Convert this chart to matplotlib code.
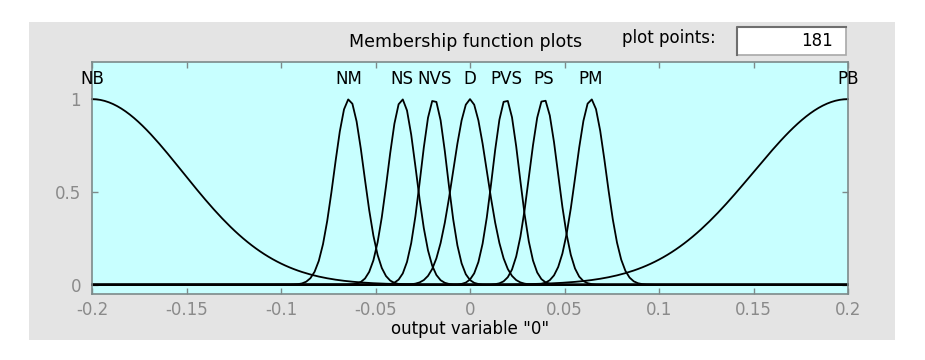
import numpy as np
import matplotlib as mpl
import matplotlib.pyplot as plt
from matplotlib.patches import Rectangle

plt.switch_backend('Agg')

# membership functions of output variable "0" (gaussmf: centre, sigma)
mf_names = ['NB', 'NM', 'NS', 'NVS', 'D', 'PVS', 'PS', 'PM', 'PB']
mf_centers = [-0.2, -0.064, -0.036, -0.019, 0.0, 0.019, 0.039, 0.064, 0.2]
mf_sigmas = [0.048, 0.0079, 0.0075, 0.0070, 0.0090, 0.0071, 0.0075, 0.0080, 0.050]

x_range = [-0.2, 0.2]
plot_points = 181
x_ticks = [-0.2, -0.15, -0.1, -0.05, 0, 0.05, 0.1, 0.15, 0.2]
x_tick_labels = ['-0.2', '-0.15', '-0.1', '-0.05', '0', '0.05', '0.1', '0.15', '0.2']
y_ticks = [0, 0.5, 1]
y_tick_labels = ['0', '0.5', '1']

W, H = 925, 360
panel_grey = '#e4e4e4'
axes_cyan = '#c8ffff'
edge_grey = '#7d8a8a'
label_grey = '#8a8a8a'

mpl.rcParams['font.family'] = ['DejaVu Sans']

fig = plt.figure(figsize=(W / 100, H / 100), dpi=100)
fig.patch.set_facecolor('white')


def px_box(x0, y0, x1, y1):
    # pixel box (top-left origin) -> figure fraction rectangle
    return x0 / W, 1 - y1 / H, (x1 - x0) / W, (y1 - y0) / H


# grey window panel
pb = px_box(29, 22, 895, 340)
fig.add_artist(Rectangle(pb[:2], *pb[2:], transform=fig.transFigure,
                         facecolor=panel_grey, edgecolor='none', zorder=0))

ax = fig.add_axes(px_box(92, 62, 848, 294))
ax.set_facecolor(axes_cyan)

x = np.linspace(x_range[0], x_range[1], plot_points)
for c, s in zip(mf_centers, mf_sigmas):
    y = np.exp(-0.5 * ((x - c) / s) ** 2)
    ax.plot(x, y, color='black', lw=1.3, clip_on=False)

for name, c in zip(mf_names, mf_centers):
    ax.text(c, 1.11, name, ha='center', va='center', fontsize=12,
            color='black', clip_on=False)

ax.set_xlim(x_range)
ax.set_ylim(-0.05, 1.2)
ax.set_xticks(x_ticks)
ax.set_xticklabels(x_tick_labels)
ax.set_yticks(y_ticks)
ax.set_yticklabels(y_tick_labels)
ax.tick_params(direction='in', length=4, width=1, color=edge_grey,
               labelcolor=label_grey, labelsize=12, top=True, right=True)
ax.tick_params(axis='x', pad=5)
ax.tick_params(axis='y', pad=8)
for sp in ax.spines.values():
    sp.set_color(edge_grey)
    sp.set_linewidth(1.2)

ax.set_xlabel('output variable "0"', fontsize=12, color='black', labelpad=1)

# header: title, plot points field
fig.text(466 / W, 1 - 42 / H, 'Membership function plots', ha='center',
         va='center', fontsize=12.5, color='black')
fig.text(622 / W, 1 - 38 / H, 'plot points:', ha='left', va='center',
         fontsize=12, color='black')
bx = px_box(737, 27, 846, 55)
fig.add_artist(Rectangle(bx[:2], *bx[2:], transform=fig.transFigure,
                         facecolor='white', edgecolor='#a8a8a8', lw=1.2))
fig.add_artist(plt.Line2D([737 / W, 737 / W, 846 / W],
                          [1 - 55 / H, 1 - 27 / H, 1 - 27 / H],
                          transform=fig.transFigure, color='#6e6e6e', lw=1.5))
fig.text(833 / W, 1 - 41 / H, str(plot_points), ha='right', va='center',
         fontsize=12, color='black')

fig.savefig('out.png', dpi=100)
plt.close(fig)
